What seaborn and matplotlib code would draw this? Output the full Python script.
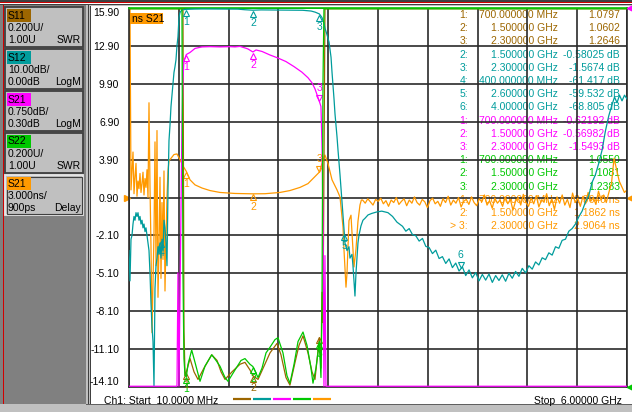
import numpy as np
import matplotlib
matplotlib.use("Agg")
import matplotlib.pyplot as plt
import matplotlib.transforms as mtransforms
from matplotlib.patches import Rectangle
import seaborn as sns

plt.rcParams["font.family"] = ["Liberation Sans", "DejaVu Sans"]
FS = 7.5

# trace colours
C_S11 = "#9c6600"
C_S12 = "#009c9c"
C_S21 = "#ff00ff"
C_S22 = "#00c800"
C_DLY = "#ff9900"

# ---------------- data ----------------
# S21 group delay (ns): left stopband, uniform sweep 10 MHz .. 503 MHz
delay_left_ns = [0.9, 16, 1.5, 3.0, 4.5, 1.2, 2.5, 3.6, 1.0, 2.2, 1.6, 2.8, 1.3, 2.0,
                 2.9, 1.1, 2.4, 1.7, 3.1, 0.9, 8.4, 1.8, -3.0, -9.8, -6.0, -2.0, 5.3,
                 -4.5, 6.2, -7.0, -3.0, 2.5, -5.5, 0.5, -4.0, 3.0, -6.5, -2.5, 1.0,
                 3.0, 3.8, 3.9]
# passband and upper skirt
delay_pass_ghz = [0.515, 0.551, 0.587, 0.623, 0.659, 0.70, 0.744, 0.804, 0.888, 0.984,
                  1.104, 1.285, 1.50, 1.646, 1.826, 1.946, 2.067, 2.163, 2.223, 2.30,
                  2.331, 2.367, 2.403, 2.452, 2.512, 2.548, 2.584, 2.596, 2.620, 2.632,
                  2.656, 2.680, 2.704, 2.716, 2.740, 2.764, 2.788, 2.805]
delay_pass_ns = [4.0, 4.3, 4.35, 3.9, 3.4, 2.96, 2.3, 1.9, 1.65, 1.45,
                 1.3, 1.22, 1.19, 1.2, 1.3, 1.45, 1.7, 2.0, 2.4, 2.91,
                 3.6, 4.26, 3.6, 2.3, 1.5, 0.94, -1.43, -3.25, -6.2, -5.1,
                 -0.93, -0.5, -3.2, -4.6, -3.2, -1.0, 0.3, 0.7]
# right stopband, uniform sweep 2.82 .. 6.0 GHz
delay_right_ns = [0.70, 0.45, 0.80, 0.55, 0.30, 0.75, 0.60, 0.85, 0.40, 0.65,
                  0.20, 0.70, 0.50, 0.90, 0.35, 0.60, 0.80, 0.25, 0.70, 0.45,
                  0.95, 0.50, 0.30, 0.75, 0.55, 0.10, 0.65, 0.85, 0.40, 0.60,
                  0.20, 0.80, 0.50, 1.00, 0.30, 0.70, 0.45, 0.90, 0.15, 0.60,
                  0.75, 0.35, 0.95, 0.50, 0.25, 0.80, 0.55, 1.10, 0.30, 0.65,
                  0.05, 0.85, 0.45, 0.70, 0.20, 0.95, 0.40, 0.75, -0.10, 0.60,
                  0.90, 0.30, 1.15, 0.50, 0.20, 0.85, 0.40, 1.05, 0.15, 0.70,
                  0.55, 1.20, 0.25, 0.80, -0.05, 0.95, 0.45, 1.10, 0.30, 0.75,
                  0.10, 1.25, 0.50, 0.85, 0.20, 1.00, 0.40, 1.30, 0.60, 0.90,
                  0.35, 1.40, 0.70, 1.10, 0.50, 1.30, 2.00, 4.00, 3.10, 2.20,
                  1.75, 1.30, 1.50]

# S12 LogM (dB): left stopband, uniform 10 .. 467 MHz
s12_left_db = [-64, -72, -61, -60, -57, -55, -56, -54, -55, -54, -56, -55, -57, -56,
               -58, -57, -59, -58, -60, -62, -64, -70, -78, -84, -88, -100, -74, -68,
               -66, -63, -65, -62, -66, -61, -64, -56, -58, -62, -68]
s12_mid_ghz = [0.479, 0.491, 0.503, 0.515, 0.527, 0.539, 0.551, 0.563, 0.575, 0.587,
               0.599, 0.611, 0.623, 0.647, 0.70, 0.80, 0.90, 1.00, 1.10, 1.20,
               1.32, 1.40, 1.50, 1.60, 1.70, 1.80, 1.90, 2.00, 2.10, 2.20,
               2.25, 2.30, 2.331, 2.355, 2.367, 2.391, 2.416, 2.440, 2.452, 2.476,
               2.488, 2.512, 2.524, 2.548, 2.572, 2.60, 2.608, 2.632, 2.656, 2.668,
               2.692, 2.704, 2.716, 2.728, 2.740, 2.752, 2.764, 2.776, 2.800, 2.824,
               2.848, 2.885, 2.93, 2.993, 3.05, 3.125, 3.18, 3.233]
s12_mid_db = [-48, -35, -31, -26, -23, -20, -17, -15.5, -13.7, -10,
              -7.6, -2.6, -1.2, -0.5, -0.35, -0.28, -0.25, -0.26, -0.27, -0.28,
              -0.3, -0.45, -0.58, -0.5, -0.52, -0.55, -0.55, -0.58, -0.6, -0.8,
              -1.1, -1.57, -2.5, -4, -5.3, -7, -9, -13, -17, -24,
              -28, -34, -37.5, -44, -51, -59.5, -62, -64, -63, -66,
              -65, -68, -72, -76, -70, -66, -62, -60, -57.5, -56,
              -55.5, -54.6, -54.2, -53.8, -53.6, -54, -55, -56.5]
# upper stopband, uniform 3.30 .. 5.58 GHz
s12_right_db = [-57.6, -58.9, -58.2, -59.8, -60.1, -61.5, -60.8, -62.9, -63.2, -64.8,
                -63.9, -66.1, -65.6, -67.4, -66.2, -68.5, -67.3, -69.4, -68.3, -70.6,
                -69.1, -71.2, -69.8, -72.0, -70.3, -71.8, -70.2, -72.4, -70.6, -71.9,
                -70.4, -72.1, -70.0, -71.3, -69.5, -70.8, -68.7, -69.9, -68.0, -68.9,
                -67.0, -67.8, -65.9, -66.4, -64.6, -65.2, -63.0, -63.4, -61.3, -61.0,
                -58.9, -58.2, -57.0, -55.1, -53.6, -51.2, -49.5, -46.0]
s12_end_ghz = [5.62, 5.66, 5.70, 5.74, 5.78, 5.82, 5.85, 5.88, 5.91, 5.94, 5.97, 6.0]
s12_end_db = [-44, -41, -37.5, -32.5, -28.5, -25.5, -23.5, -25, -23, -24.5, -23, -24]

# S21 LogM (dB)
s21_ghz = [0.01, 0.30, 0.575, 0.587, 0.599, 0.611, 0.647, 0.659, 0.671, 0.70,
           0.744, 0.804, 0.888, 0.984, 1.104, 1.225, 1.285, 1.345, 1.405, 1.44,
           1.50, 1.538, 1.61, 1.706, 1.802, 1.898, 1.995, 2.09, 2.163, 2.211,
           2.247, 2.30, 2.319, 2.331, 2.343, 2.355, 2.367, 2.379, 3.5, 6.0]
s21_db = [-60, -70, -50, -12, -4.94, -12, -2.0, -1.1, -0.75, -0.62,
          -0.58, -0.5, -0.47, -0.465, -0.47, -0.465, -0.47, -0.46, -0.49, -0.51,
          -0.57, -0.53, -0.56, -0.63, -0.69, -0.76, -0.86, -0.97, -1.08, -1.18,
          -1.3, -1.55, -1.65, -2.4, -3.8, -12, -4.6, -20, -60, -40]

# S11 SWR
s11_ghz = [0.01, 0.659, 0.671, 0.684, 0.70, 0.744, 0.792, 0.840, 0.912, 1.005,
           1.069, 1.117, 1.165, 1.249, 1.345, 1.405, 1.465, 1.50, 1.562, 1.634,
           1.706, 1.79, 1.838, 1.898, 1.946, 2.007, 2.055, 2.103, 2.163, 2.211,
           2.247, 2.30, 2.319, 2.331, 2.343, 2.367, 6.0]
s11_swr = [20, 20, 1.3, 1.06, 1.08, 1.15, 1.08, 1.04, 1.10, 1.17,
           1.14, 1.08, 1.04, 1.08, 1.12, 1.13, 1.09, 1.06, 1.04, 1.11,
           1.18, 1.23, 1.17, 1.05, 1.01, 1.13, 1.22, 1.27, 1.18, 1.08,
           1.04, 1.26, 1.1, 1.5, 1.34, 20, 20]

# S22 SWR
s22_ghz = [0.01, 0.647, 0.659, 0.671, 0.684, 0.70, 0.720, 0.764, 0.804, 0.864,
           0.924, 1.005, 1.057, 1.104, 1.165, 1.201, 1.285, 1.357, 1.405, 1.465,
           1.50, 1.562, 1.610, 1.658, 1.706, 1.766, 1.802, 1.862, 1.910, 1.946,
           1.995, 2.043, 2.103, 2.151, 2.199, 2.223, 2.259, 2.30, 2.307, 2.319,
           2.331, 2.343, 2.355, 6.0]
s22_swr = [20, 20, 1.6, 1.15, 1.06, 1.055, 1.12, 1.195, 1.13, 1.03,
           1.11, 1.17, 1.14, 1.11, 1.05, 1.03, 1.09, 1.14, 1.15, 1.12,
           1.108, 1.05, 1.10, 1.18, 1.21, 1.25, 1.26, 1.18, 1.06, 1.02,
           1.12, 1.24, 1.29, 1.22, 1.10, 1.02, 1.10, 1.24, 1.16, 1.05,
           1.4, 2.6, 20, 20]

# markers (number, GHz, value)
s11_mk = [(1, 0.7, 1.0797), (2, 1.5, 1.0602), (3, 2.3, 1.2646)]
s12_mk = [(1, 0.7, -0.35), (2, 1.5, -0.58025), (3, 2.3, -1.5674), (4, 0.4, -61.417),
          (5, 2.6, -59.532), (6, 4.0, -68.805)]
s21_mk = [(1, 0.7, -0.62192), (2, 1.5, -0.56982), (3, 2.3, -1.5493)]
s22_mk = [(1, 0.7, 1.0550), (2, 1.5, 1.1081), (3, 2.3, 1.2383)]
dly_mk = [(1, 0.7, 2.9640), (2, 1.5, 1.1862), (3, 2.3, 2.9064)]

# channel scales: (bottom, top) of the graticule for each trace
DLY_LIM = (-14.1, 15.9)      # 3 ns/div, ref 0.9 ns at centre
S12_LIM = (-100.0, 0.0)      # 10 dB/div, ref 0 dB at top
S21_LIM = (-7.2, 0.3)        # 0.75 dB/div, ref 0.3 dB at top
SWR_LIM = (1.0, 3.0)         # 0.2 U/div, ref 1.0 at bottom
F_START, F_STOP = 0.01, 6.0

buttons = [("S11", C_S11, "0.200U/", "1.00U", "SWR"),
           ("S12", C_S12, "10.00dB/", "0.00dB", "LogM"),
           ("S21", C_S21, "0.750dB/", "0.30dB", "LogM"),
           ("S22", C_S22, "0.200U/", "1.00U", "SWR"),
           ("S21", C_DLY, "3.000ns/", "900ps", "Delay")]

# ---------------- figure chrome (pixel coordinates) ----------------
fig = plt.figure(figsize=(6.32, 4.12), dpi=100, facecolor="#c0c0c0")
bg = fig.add_axes([0, 0, 1, 1])
bg.set_xlim(0, 632)
bg.set_ylim(412, 0)
bg.set_axis_off()

bg.add_patch(Rectangle((0, 0), 632, 1.5, color="#404040", lw=0))
bg.add_patch(Rectangle((0, 1.5), 632, 1.2, color="#d00000", lw=0))
bg.add_patch(Rectangle((0, 2.7), 632, 1.3, color="#ffffff", lw=0))
bg.add_patch(Rectangle((0, 4), 632, 1.3, color="#404040", lw=0))
bg.add_patch(Rectangle((0, 5.3), 86, 399, color="#808080", lw=0))
bg.add_patch(Rectangle((3, 5.3), 1.2, 399, color="#d00000", lw=0))
bg.add_patch(Rectangle((88, 5.3), 1.2, 399, color="#404040", lw=0))
bg.add_patch(Rectangle((91, 6), 541, 398, color="white", lw=0))
bg.add_patch(Rectangle((90, 6), 1.2, 398, color="#404040", lw=0))
bg.add_patch(Rectangle((0, 404), 632, 8, color="#c0c0c0", lw=0))
bg.add_patch(Rectangle((86, 404), 546, 1.2, color="#606060", lw=0))

for i, (name, col, l2, l3a, l3b) in enumerate(buttons):
    top = 7 + 42 * i
    active = i == len(buttons) - 1
    bg.add_patch(Rectangle((5, top), 78, 40, facecolor="#c0c0c0",
                           edgecolor="#e8e8e8" if active else "#404040", lw=1.3))
    if active:
        bg.add_patch(Rectangle((6.5, top + 1.5), 75, 37, facecolor="none",
                               edgecolor="#404040", lw=0.8))
    bg.add_patch(Rectangle((7, top + 2), 24, 13, color=col, lw=0))
    bg.text(8, top + 8.5, name, fontsize=FS, va="center", ha="left", color="black")
    bg.text(8, top + 21, l2, fontsize=FS, va="center", ha="left", color="black")
    bg.text(8, top + 33, l3a, fontsize=FS, va="center", ha="left", color="black")
    bg.text(81, top + 33, l3b, fontsize=FS, va="center", ha="right", color="black")

# marker readout table (under the traces)
def fmt_freq(f):
    return f"{f * 1000:.6f} MHz" if f < 1 else f"{f:.6f} GHz"

rows = []
rows += [(n, f, f"{v:.4f}", C_S11, "") for n, f, v in s11_mk]
rows += [(n, f, f"{v:.5g} dB", C_S12, "") for n, f, v in s12_mk[1:]]
rows += [(n, f, f"{v:.5g} dB", C_S21, "") for n, f, v in s21_mk]
rows += [(n, f, f"{v:.4f}", C_S22, "") for n, f, v in s22_mk]
rows += [(n, f, f"{v:.4f} ns", C_DLY, "> " if n == 3 else "") for n, f, v in dly_mk]
for i, (n, f, val, col, pre) in enumerate(rows):
    y = 15 + 13.2 * i
    bg.text(468, y, f"{pre}{n}:", fontsize=FS, ha="right", va="center", color=col)
    bg.text(558, y, fmt_freq(f), fontsize=FS, ha="right", va="center", color=col)
    bg.text(620, y, val, fontsize=FS, ha="right", va="center", color=col)

# status line
bg.text(104, 400.5, "Ch1: Start  10.0000 MHz", fontsize=FS, ha="left", va="center")
bg.text(622, 400.5, "Stop  6.00000 GHz", fontsize=FS, ha="right", va="center")
for k, col in enumerate([C_S11, C_S12, C_S21, C_S22, C_DLY]):
    x0 = 233 + 20 * k
    bg.plot([x0, x0 + 18], [398.7, 398.7], color=col, lw=1.6, solid_capstyle="butt")

# ---------------- graticule ----------------
ax = fig.add_axes([129 / 632, 25 / 412, 498 / 632, 379 / 412])
ax.set_facecolor("none")
yt = np.arange(DLY_LIM[0], DLY_LIM[1] + 0.01, 3.0)
ax.set_yticks(yt)
ax.set_yticklabels([f"{t:.2f}" for t in yt])
ax.set_xticks(np.linspace(F_START, F_STOP, 11))
ax.set_xticklabels([])
ax.tick_params(length=0, pad=7, labelsize=FS)
ax.grid(True, color="#2a2a2a", lw=1.2)
for sp in ax.spines.values():
    sp.set_color("#2a2a2a")
    sp.set_linewidth(1.2)
ax.spines["top"].set_color(C_S22)
labs = ax.get_yticklabels()
labs[0].set_va("bottom")
labs[-1].set_va("top")


def trace(a, f, v, lim, color):
    pad = (lim[1] - lim[0]) * 0.002
    v = np.clip(np.asarray(v, float), lim[0] + pad, lim[1] - pad)
    sns.lineplot(x=np.asarray(f, float), y=v, ax=a, color=color, lw=0.9,
                 estimator=None, sort=False, legend=False)
    a.set_ylim(*lim)


def mark(a, f, v, n, color, above=False):
    if above:
        tr = mtransforms.offset_copy(a.transData, fig=fig, y=2.6, units="points")
        a.plot([f], [v], marker="v", ms=5, mfc="none", mec=color, mew=0.8,
               transform=tr, clip_on=False)
        a.annotate(str(n), (f, v), xytext=(0, 6), textcoords="offset points",
                   ha="center", va="bottom", color=color, fontsize=FS,
                   annotation_clip=False)
    else:
        tr = mtransforms.offset_copy(a.transData, fig=fig, y=-2.6, units="points")
        a.plot([f], [v], marker="^", ms=5, mfc="none", mec=color, mew=0.8,
               transform=tr, clip_on=False)
        a.annotate(str(n), (f, v), xytext=(0, -5.5), textcoords="offset points",
                   ha="center", va="top", color=color, fontsize=FS,
                   annotation_clip=False)


def ref_arrow(a, y, color, left=False):
    tr = mtransforms.blended_transform_factory(a.transAxes, a.transData)
    dx = -1.8 if left else 1.8
    tr = tr + mtransforms.ScaledTranslation(dx / 72, 0, fig.dpi_scale_trans)
    a.plot([0.0 if left else 1.0], [y], marker=">" if left else "<", ms=5,
           color=color, mec=color, transform=tr, clip_on=False)


# delay on the main axes (its scale gives the tick labels)
dly_f = np.concatenate([np.linspace(0.01, 0.503, len(delay_left_ns)), delay_pass_ghz,
                        np.linspace(2.82, 6.0, len(delay_right_ns))])
dly_v = np.concatenate([delay_left_ns, delay_pass_ns, delay_right_ns])
trace(ax, dly_f, dly_v, DLY_LIM, C_DLY)

ax11 = ax.twinx()
trace(ax11, s11_ghz, s11_swr, SWR_LIM, C_S11)
ax12 = ax.twinx()
s12_f = np.concatenate([np.linspace(0.01, 0.467, len(s12_left_db)), s12_mid_ghz,
                        np.linspace(3.30, 5.58, len(s12_right_db)), s12_end_ghz])
s12_v = np.concatenate([s12_left_db, s12_mid_db, s12_right_db, s12_end_db])
trace(ax12, s12_f, s12_v, S12_LIM, C_S12)
ax21 = ax.twinx()
trace(ax21, s21_ghz, s21_db, S21_LIM, C_S21)
ax22 = ax.twinx()
trace(ax22, s22_ghz, s22_swr, SWR_LIM, C_S22)
for a in (ax11, ax12, ax21, ax22):
    a.set_axis_off()

ax.set_xlim(F_START, F_STOP)
ax.set_ylim(*DLY_LIM)
ax.set_xlabel("")
ax.set_ylabel("")

for n, f, v in s11_mk:
    mark(ax11, f, v, n, C_S11)
for n, f, v in s12_mk:
    mark(ax12, f, v, n, C_S12, above=(n == 6))
for n, f, v in s21_mk:
    mark(ax21, f, v, n, C_S21, above=(n == 3))
for n, f, v in s22_mk:
    mark(ax22, f, v, n, C_S22)
for n, f, v in dly_mk:
    mark(ax, f, v, n, C_DLY, above=(n == 3))

ref_arrow(ax, 0.9, C_DLY)
ref_arrow(ax, 0.9, C_DLY, left=True)
ref_arrow(ax21, S21_LIM[1], C_S21)
ref_arrow(ax22, SWR_LIM[0], C_S22)

# active-trace tag on top
top = fig.add_axes([0, 0, 1, 1])
top.set_xlim(0, 632)
top.set_ylim(412, 0)
top.set_axis_off()
top.add_patch(Rectangle((130, 12.5), 33, 11.5, color=C_DLY, lw=0))
top.text(131.5, 18.5, "ns S21", fontsize=FS, ha="left", va="center", color="black")

fig.savefig("out.png", dpi=100, facecolor=fig.get_facecolor())
